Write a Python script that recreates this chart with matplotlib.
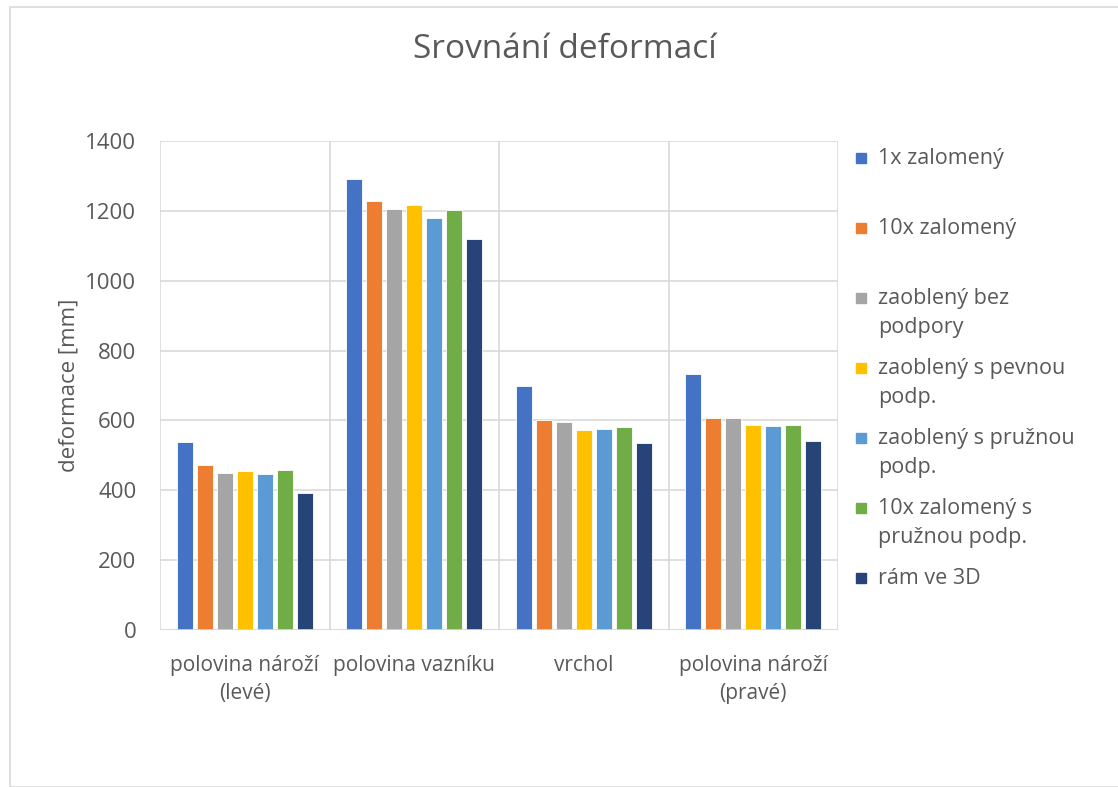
import numpy as np
import matplotlib
matplotlib.use("Agg")
import matplotlib.pyplot as plt
from matplotlib.patches import Rectangle

plt.rcParams['font.family'] = ['Open Sans', 'DejaVu Sans']

# data
categories = ["polovina nároží\n(levé)", "polovina vazníku", "vrchol", "polovina nároží\n(pravé)"]
series = ["1x zalomený", "10x zalomený", "zaoblený bez\npodpory", "zaoblený s pevnou\npodp.",
          "zaoblený s pružnou\npodp.", "10x zalomený s\npružnou podp.", "rám ve 3D"]
s1 = [537, 1292, 698, 734]
s2 = [471, 1228, 602, 607]
s3 = [450, 1206, 596, 606]
s4 = [456, 1218, 572, 587]
s5 = [447, 1179, 575, 584]
s6 = [459, 1202, 581, 586]
s7 = [393, 1119, 535, 540]
values = [s1, s2, s3, s4, s5, s6, s7]
colors = ["#4472C4", "#ED7D31", "#A5A5A5", "#FFC000", "#5B9BD5", "#70AD47", "#264478"]

txt = "#595959"
grid = "#d9d9d9"

fig = plt.figure(figsize=(11.18, 7.87), dpi=100)
W, H = 1118, 787

# chart border
fig.add_artist(Rectangle((10 / W, 0), 1.2, 1 - 7 / H, transform=fig.transFigure,
                         fill=False, edgecolor=grid, lw=1.2))

ax = fig.add_axes([160 / W, 1 - 630 / H, (838 - 160) / W, (630 - 141) / H])

x = np.arange(len(categories))
step = 0.118
width = 0.094
for i, (vals, c) in enumerate(zip(values, colors)):
    ax.bar(x + (i - 3) * step, vals, width, color=c, edgecolor="white", linewidth=0.6, zorder=3)

ax.set_xlim(-0.5, len(categories) - 0.5)
ax.set_ylim(0, 1400)
ax.set_yticks(range(0, 1401, 200))
ax.set_xticks(x)
ax.set_xticklabels(categories, color=txt, fontsize=15, linespacing=1.45)
ax.tick_params(axis='y', colors=txt, labelsize=16, length=0, pad=17)
ax.tick_params(axis='x', length=0, pad=18)

ax.grid(axis='y', color=grid, lw=1.2, zorder=0)
for b in np.arange(len(categories) + 1) - 0.5:
    ax.axvline(b, color=grid, lw=1.2, zorder=0)
for s in ax.spines.values():
    s.set_visible(False)
ax.axhline(0, color=grid, lw=1.2, zorder=4)

ax.set_ylabel("deformace [mm]", color=txt, fontsize=16, labelpad=4)

fig.text(565 / W, 1 - 50 / H, "Srovnání deformací", color=txt, fontsize=24,
         ha='center', va='center')

# legend
for i, (lab, c) in enumerate(zip(series, colors)):
    y0 = 158 + 70 * i
    fig.add_artist(Rectangle((856 / W, 1 - (y0 + 5) / H), 10 / W, 10 / H,
                             transform=fig.transFigure, color=c))
    fig.text(878 / W, 1 - (y0 - 10) / H, lab, color=txt, fontsize=15.5,
             ha='left', va='top', linespacing=1.5)

fig.savefig("out.png", dpi=100)
